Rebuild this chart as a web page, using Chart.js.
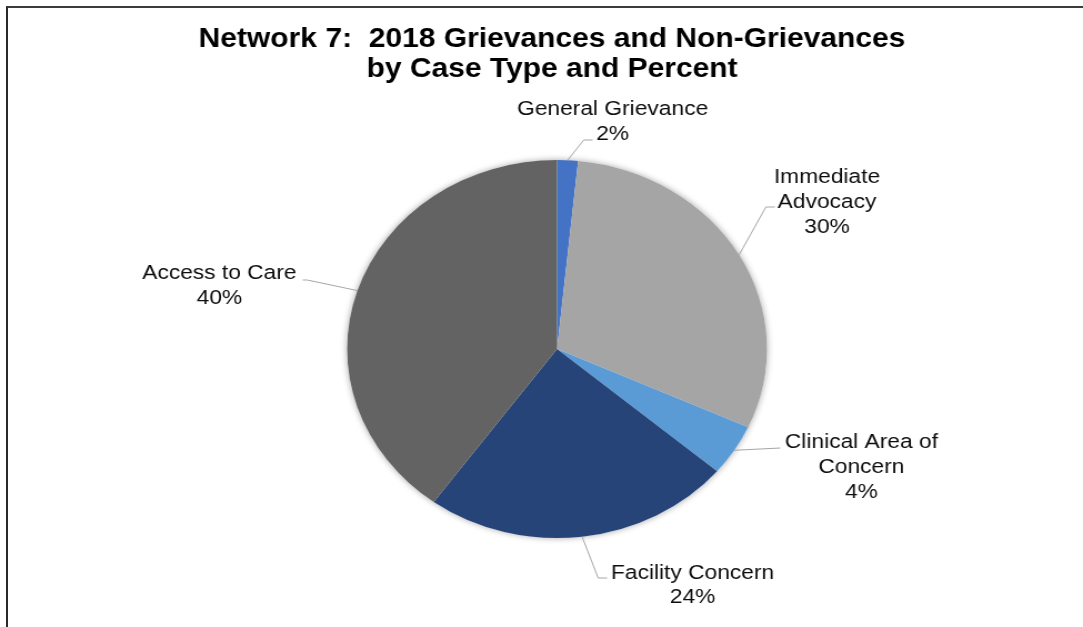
<!DOCTYPE html>
<html>
<head>
<meta charset="utf-8">
<script src="https://cdn.jsdelivr.net/npm/chart.js"></script>
<style>
  html, body { margin: 0; padding: 0; background: #fff; }
  body { width: 1083px; height: 627px; overflow: hidden; position: relative; }
  .frame { position: absolute; left: 6px; top: 6px; right: -4px; bottom: -4px; border-top: 2px solid #3c3c3c; border-left: 2px solid #2a2a2a; }
  /* the reference is stretched sideways a little, so the canvas is too */
  .chart-wrapper { position: absolute; left: 0; top: 0; width: 975px; height: 627px; transform: scaleX(1.1108); transform-origin: 0 0; }
</style>
</head>
<body>
<div class="frame"></div>
<div class="chart-wrapper"><canvas id="pie-chart"></canvas></div>
<script>
// 데이터
const categories = ['General Grievance', 'Immediate Advocacy', 'Clinical Area of Concern', 'Facility Concern', 'Access to Care'];
const percentValues = [1.6, 30.2, 4.4, 23.8, 40.0];
const labelLines = [['General Grievance'], ['Immediate', 'Advocacy'], ['Clinical Area of', 'Concern'], ['Facility Concern'], ['Access to Care']];
const titleLines = ['Network 7:  2018 Grievances and Non-Grievances', 'by Case Type and Percent'];

const sliceColors = ['#4472C4', '#A5A5A5', '#5B9BD5', '#264478', '#636363'];

// label placement relative to the pie centre, in canvas units
// elbow: where the leader line bends, end: where it stops, text: centre x / first line y
const labelPlace = [
  { elbow: [24, -209], end: [32, -209], text: [50, -239.5] },
  { elbow: [188, -142], end: [196, -142], text: [243, -171.5] },
  { elbow: [201, 99], end: [201, 99], text: [274, 93.5] },
  { elbow: [37, 229], end: [45, 229], text: [122, 224] },
  { elbow: [-225, -69], end: [-229, -69], text: [-304, -75.5] }
];

const labelPlugin = {
  id: 'pieLabels',
  beforeDatasetsDraw(chart) {
    // soft shadow under the pie
    const arc = chart.getDatasetMeta(0).data[0];
    const ctx = chart.ctx;
    ctx.save();
    ctx.shadowColor = 'rgba(0, 0, 0, 0.35)';
    ctx.shadowBlur = 6;
    ctx.fillStyle = '#ffffff';
    ctx.beginPath();
    ctx.arc(arc.x, arc.y, arc.outerRadius, 0, Math.PI * 2);
    ctx.fill();
    ctx.restore();
  },
  afterDraw(chart) {
    const ctx = chart.ctx;
    const meta = chart.getDatasetMeta(0);
    const total = percentValues.reduce((a, b) => a + b, 0);

    ctx.save();
    // title
    ctx.fillStyle = '#000';
    ctx.textAlign = 'center';
    ctx.textBaseline = 'middle';
    ctx.font = "bold 27px 'Liberation Sans', Arial, sans-serif";
    titleLines.forEach((t, i) => ctx.fillText(t, 497, 39.5 + i * 30));

    // labels with leader lines
    ctx.font = "20.5px 'Liberation Sans', Arial, sans-serif";
    meta.data.forEach((arc, i) => {
      const p = labelPlace[i];
      const mid = (arc.startAngle + arc.endAngle) / 2;
      const sx = arc.x + Math.cos(mid) * arc.outerRadius;
      const sy = arc.y + Math.sin(mid) * arc.outerRadius;

      ctx.strokeStyle = '#a6a6a6';
      ctx.lineWidth = 1;
      ctx.beginPath();
      ctx.moveTo(sx, sy);
      ctx.lineTo(arc.x + p.elbow[0], arc.y + p.elbow[1]);
      ctx.lineTo(arc.x + p.end[0], arc.y + p.end[1]);
      ctx.stroke();

      const pct = Math.round(percentValues[i] / total * 100) + '%';
      const lines = labelLines[i].concat([pct]);
      ctx.fillStyle = '#0d0d0d';
      lines.forEach((t, j) => ctx.fillText(t, arc.x + p.text[0], arc.y + p.text[1] + j * 24.8));
    });
    ctx.restore();
  }
};

new Chart(document.getElementById('pie-chart'), {
  type: 'pie',
  data: {
    labels: categories,
    datasets: [{
      data: percentValues,
      backgroundColor: sliceColors,
      borderWidth: 0
    }]
  },
  options: {
    responsive: true,
    maintainAspectRatio: false,
    animation: false,
    devicePixelRatio: 1,
    layout: {
      padding: { left: 300, right: 272, top: 160, bottom: 89 }
    },
    plugins: {
      legend: { display: false },
      tooltip: { enabled: false }
    }
  },
  plugins: [labelPlugin]
});
</script>
</body>
</html>
